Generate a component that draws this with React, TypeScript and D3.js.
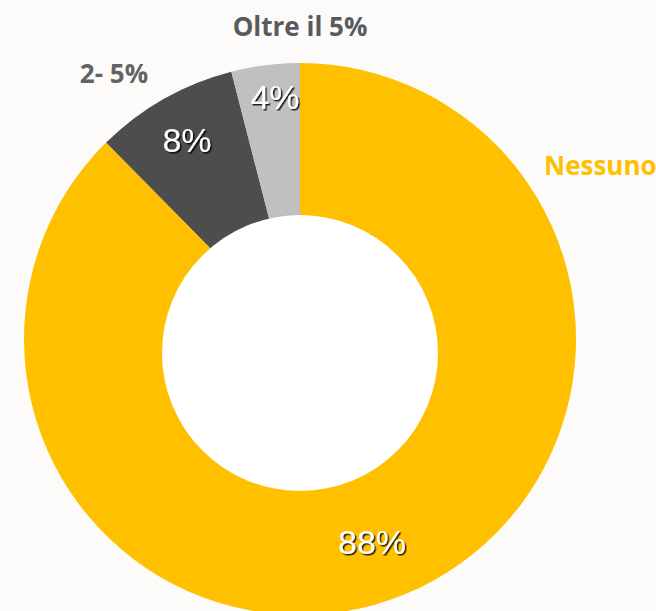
import React from "react";
import * as d3 from "d3";

const categories = ["Nessuno", "2- 5%", "Oltre il 5%"];
const values = [87.6, 8.4, 4.0];
const valueLabels = ["88%", "8%", "4%"];
const colors = ["#FFC000", "#4D4D4D", "#BFC0BF"];
const catColors = ["#FFC000", "#636363", "#585A5E"];

const W = 656;
const H = 611;
const cx = 300;
const cy = 339;
const rOuter = 276;
const holeCx = 300;
const holeCy = 353;
const holeR = 138;

const catPos: [number, number, string][] = [
  [544, 175, "start"],
  [114, 83, "middle"],
  [300, 36, "middle"],
];

export default function App() {
  const pie = d3.pie<number>().sort(null).value((d) => d);
  const arcs = pie(values);
  const arc = d3.arc<d3.PieArcDatum<number>>().innerRadius(0).outerRadius(rOuter);
  const pos = [
    [372, 542],
    [187, 140],
    [275, 97],
  ];
  return (
    <svg width={W} height={H} style={{ position: "absolute", left: 0, top: 0, background: "#FCFBFA" }}>
      <defs>
        <filter id="sh" x="-20%" y="-20%" width="140%" height="140%">
          <feDropShadow dx="1.5" dy="1.5" stdDeviation="0.6" floodColor="#000" floodOpacity="0.85" />
        </filter>
      </defs>
      <rect width={W} height={H} fill="#FCFBFA" />
      <g transform={`translate(${cx},${cy})`}>
        {arcs.map((a, i) => (
          <path key={i} d={arc(a) || ""} fill={colors[i]} />
        ))}
      </g>
      <circle cx={holeCx} cy={holeCy} r={holeR} fill="#FFFFFF" />
      {valueLabels.map((t, i) => (
        <text
          key={i}
          x={pos[i][0]}
          y={pos[i][1]}
          textAnchor="middle"
          dominantBaseline="central"
          fontFamily="'Liberation Sans', Arial, sans-serif"
          fontSize={34}
          fill="#fff"
          filter="url(#sh)"
        >
          {t}
        </text>
      ))}
      {categories.map((c, i) => (
        <text
          key={c}
          x={catPos[i][0]}
          y={catPos[i][1]}
          textAnchor={catPos[i][2] as any}
          fontFamily="'Open Sans', sans-serif"
          fontWeight="bold"
          fontSize={26}
          fill={catColors[i]}
        >
          {c}
        </text>
      ))}
    </svg>
  );
}
